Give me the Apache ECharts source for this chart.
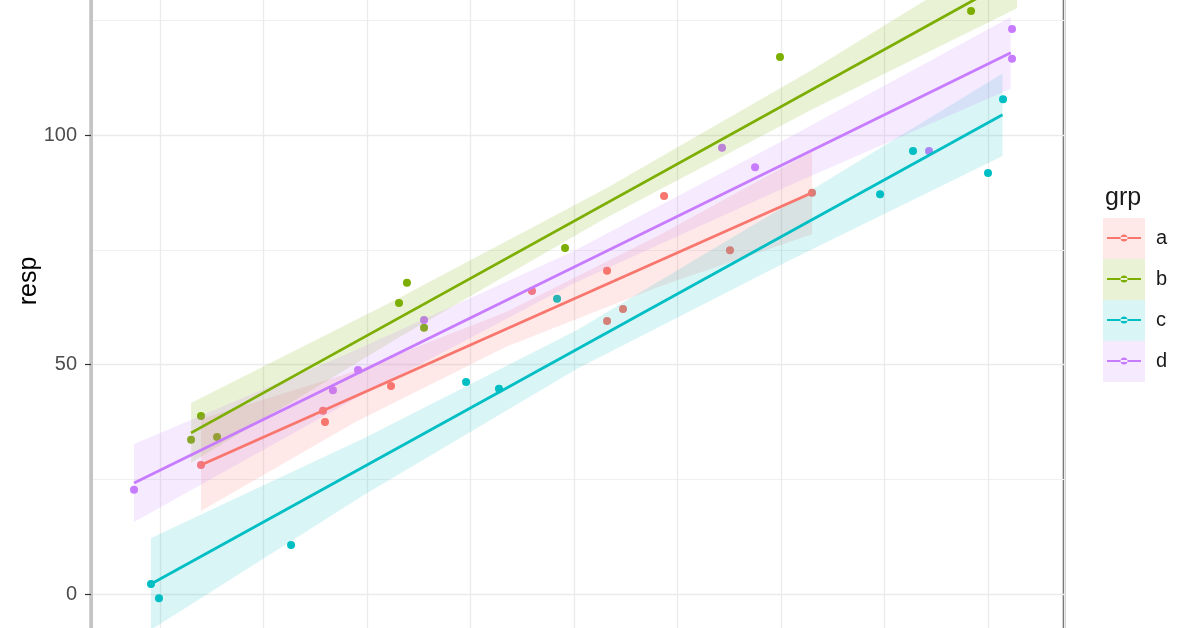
<!DOCTYPE html>
<html>
<head>
<meta charset="utf-8">
<script src="https://cdn.jsdelivr.net/npm/echarts@6/dist/echarts.min.js"></script>
<style>
html,body{margin:0;padding:0;background:#fff;}
#chart{width:1196px;height:628px;}
</style>
</head>
<body>
<div id="chart"></div>
<script>
// ---- data ----
const groups = ['a', 'b', 'c', 'd'];
const colors = ['#F8766D', '#7CAE00', '#00BFC4', '#C77CFF'];
const bandColors = ['rgba(248,118,109,0.16)', 'rgba(124,174,0,0.16)', 'rgba(0,191,196,0.15)', 'rgba(199,124,255,0.16)'];

const pointsA = [[3.96,28.1],[15.75,39.9],[15.94,37.5],[22.32,45.3],[35.94,66.0],[43.19,70.4],[43.19,59.5],[44.73,62.1],[48.70,86.7],[55.07,74.9],[63.0,87.4]];
const pointsB = [[3.0,33.6],[3.96,38.8],[5.51,34.2],[23.09,63.4],[23.86,67.8],[25.51,58.0],[39.13,75.4],[59.90,117.0],[78.36,127.0],[82.8,140.0]];
const pointsC = [[-0.87,2.2],[-0.10,-0.9],[12.66,10.7],[29.57,46.2],[32.75,44.7],[38.36,64.3],[69.57,87.1],[72.75,96.5],[80.0,91.7],[81.45,107.8]];
const pointsD = [[-2.51,22.7],[16.71,44.4],[19.13,48.8],[25.51,59.7],[54.30,97.2],[57.49,93.0],[74.30,96.5],[82.32,123.1],[82.32,116.6]];

const fitA = [[3.96,28.1],[63.0,87.4]];
const fitB = [[3.0,35.1],[82.8,134.6]];
const fitC = [[-0.87,2.2],[81.4,104.4]];
const fitD = [[-2.51,24.2],[82.2,117.9]];

const bandXA = [3.96, 18.75, 33.5, 48.25, 63.0];
const bandLoA = [18.1, 37.3, 53.9, 67.0, 78.4];
const bandHiA = [38.1, 48.5, 61.5, 78.2, 96.4];

const bandXB = [3.0, 22.95, 42.9, 62.85, 82.8];
const bandLoB = [28.6, 55.7, 81.7, 105.4, 127.6];
const bandHiB = [41.6, 64.3, 88.1, 114.0, 141.6];

const bandXC = [-0.87, 19.7, 40.3, 60.8, 81.4];
const bandLoC = [-7.8, 21.55, 49.1, 72.65, 95.4];
const bandHiC = [12.2, 33.95, 57.5, 85.05, 113.4];

const bandXD = [-2.51, 18.67, 39.85, 61.02, 82.2];
const bandLoD = [15.7, 42.3, 67.55, 89.2, 110.1];
const bandHiD = [32.7, 52.9, 74.55, 99.8, 125.7];

const yTicks = [0, 50, 100];
const X_MIN = -6.667, X_MAX = 87.34;
const Y_MIN = -50, Y_MAX = 150;

// ---- chart ----
const points = [pointsA, pointsB, pointsC, pointsD];
const fits = [fitA, fitB, fitC, fitD];
const bands = [[bandXA, bandLoA, bandHiA], [bandXB, bandLoB, bandHiB], [bandXC, bandLoC, bandHiC], [bandXD, bandLoD, bandHiD]];

const FONT = '"Liberation Sans", Arial, sans-serif';
const series = [];

groups.forEach((g, i) => {
  series.push({
    type: 'scatter', name: g, data: points[i], symbolSize: 8, z: 2,
    itemStyle: { color: colors[i], opacity: 1 }, silent: true, clip: true
  });
});
groups.forEach((g, i) => {
  const [xs, lo, hi] = bands[i];
  series.push({
    type: 'custom', name: g, z: 3, silent: true, clip: true,
    data: xs.map((x, k) => [x, lo[k], hi[k]]),
    encode: { x: 0, y: [1, 2] },
    renderItem: function (params, api) {
      if (params.dataIndex !== 0) return;
      const pts = [];
      for (let k = 0; k < xs.length; k++) pts.push(api.coord([xs[k], hi[k]]));
      for (let k = xs.length - 1; k >= 0; k--) pts.push(api.coord([xs[k], lo[k]]));
      return { type: 'polygon', shape: { points: pts }, style: { fill: bandColors[i] } };
    }
  });
});
groups.forEach((g, i) => {
  series.push({
    type: 'line', name: g, data: fits[i], showSymbol: false, z: 4, silent: true, clip: true,
    lineStyle: { color: colors[i], width: 2.8 }, itemStyle: { color: colors[i] }
  });
});

const iconPath = 'path://M0,2.5L34,2.5L34,4.5L0,4.5Z M13.5,3.5 A3.5,3.5 0 1 0 20.5,3.5 A3.5,3.5 0 1 0 13.5,3.5Z';

const option = {
  animation: false,
  backgroundColor: '#ffffff',
  textStyle: { fontFamily: FONT },
  grid: {
    left: 91, right: 132, top: -94.5, bottom: -195.5,
    outerBoundsMode: 'none', containLabel: false,
    show: true, borderColor: '#666666', borderWidth: 2.6, backgroundColor: 'transparent'
  },
  title: {
    text: 'grp', left: 1100, top: 181,
    textStyle: { fontFamily: FONT, fontSize: 25, fontWeight: 'normal', color: '#1a1a1a' }
  },
  graphic: [{
    type: 'text', x: 29, y: 281, rotation: Math.PI / 2, silent: true,
    style: { text: 'resp', fontFamily: FONT, fontSize: 25, fill: '#000000', align: 'center', verticalAlign: 'middle' }
  }],
  xAxis: {
    type: 'value', min: X_MIN, max: X_MAX, splitNumber: 9,
    axisLine: { show: false }, axisTick: { show: false }, axisLabel: { show: false },
    splitLine: { show: true, lineStyle: { color: '#ebebeb', width: 1.3 } }
  },
  yAxis: {
    type: 'value', min: Y_MIN, max: Y_MAX, interval: 50,
    axisLine: { show: true, onZero: false, lineStyle: { color: '#c4c4c4', width: 3 } },
    axisTick: { show: true, length: 6, lineStyle: { color: '#333333', width: 1.2 } },
    axisLabel: {
      margin: 14, fontFamily: FONT, fontSize: 20, color: '#4d4d4d',
      formatter: v => (yTicks.indexOf(v) >= 0 ? String(v) : '')
    },
    splitLine: { show: true, lineStyle: { color: '#ebebeb', width: 1.3 } },
    minorTick: { show: false, splitNumber: 2 },
    minorSplitLine: { show: true, lineStyle: { color: '#f0f0f0', width: 1 } }
  },
  legend: [
    {
      orient: 'vertical', left: 1098, top: 213, itemWidth: 42, itemHeight: 41, itemGap: 0,
      selectedMode: false, icon: 'rect', formatter: () => '',
      textStyle: { fontSize: 8 },
      data: groups.map((g, i) => ({ name: g, icon: 'rect', itemStyle: { color: bandColors[i], borderWidth: 0 } }))
    },
    {
      orient: 'vertical', left: 1102, top: 223, itemWidth: 34, itemHeight: 20, itemGap: 21,
      selectedMode: false,
      textStyle: { fontFamily: FONT, fontSize: 20, color: '#1a1a1a', padding: [0, 0, 0, 10] },
      data: groups.map((g, i) => ({ name: g, icon: iconPath, itemStyle: { color: colors[i], borderWidth: 0 } }))
    }
  ],
  series: series
};

const chart = echarts.init(document.getElementById('chart'), null, { renderer: 'canvas' });
chart.setOption(option);
</script>
</body>
</html>
